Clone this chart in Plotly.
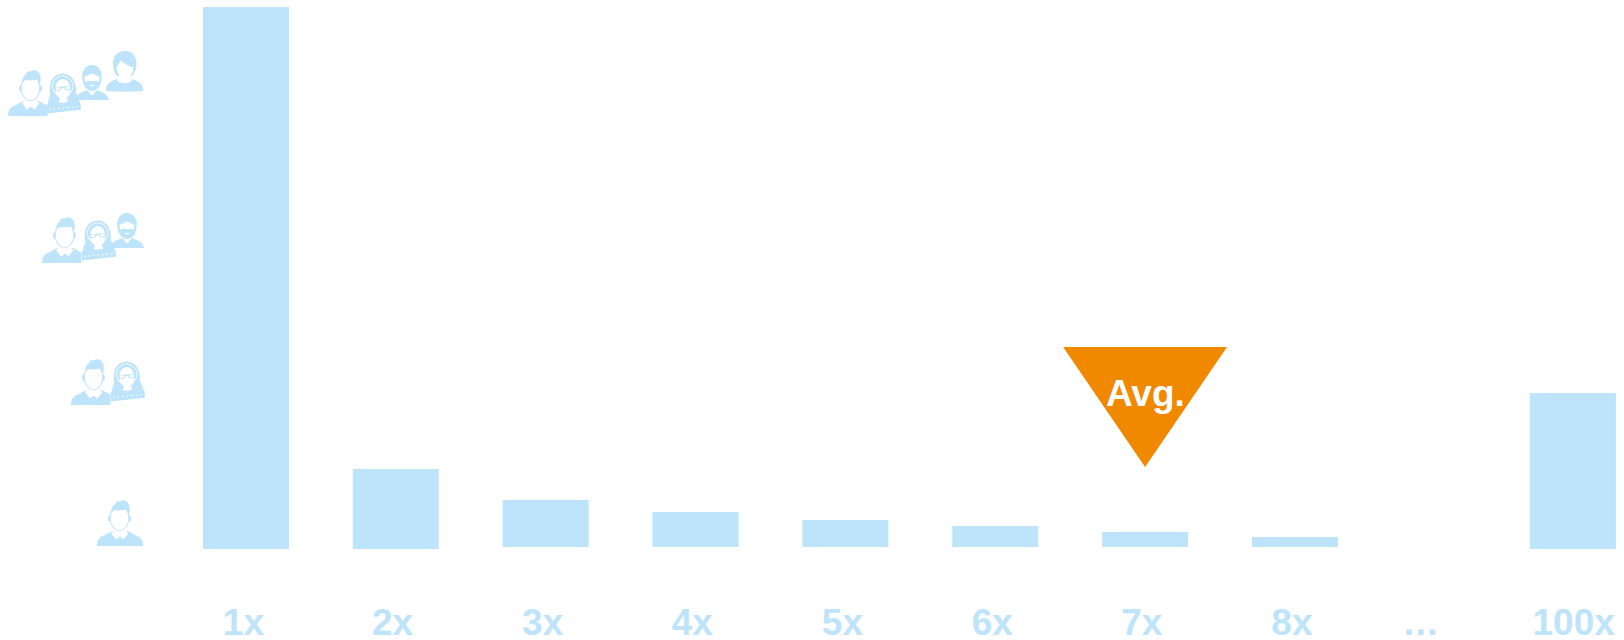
import math
import re
import plotly.graph_objects as go

# ---- data (bar heights, in picture pixels above the baseline)
categories = ["1x", "2x", "3x", "4x", "5x", "6x", "7x", "8x", "100x"]
bar_slots = [1, 2, 3, 4, 5, 6, 7, 8, 9.855]
bar_values = [542, 80, 47, 35, 27, 21, 15, 10, 156]
bar_bases = [0, 0, 2, 2, 2, 2, 2, 2, 0]
tick_labels = ["1x", "2x", "3x", "4x", "5x", "6x", "7x", "8x", "…", "100x"]
tick_slots = [0.983, 1.978, 2.98, 3.978, 4.98, 5.98, 6.978, 7.98, 8.84, 9.86]
avg_slot = 7.0
avg_label = "Avg."

BLUE = "#BDE4FB"
ORANGE = "#F08800"
W, H, MB = 1624, 640, 43
PLOT_H = H - MB
FONT = "Liberation Sans"


def ell(cx, cy, rx, ry):
    k = 0.5523
    return (f"M{cx-rx},{cy} C{cx-rx},{cy-k*ry} {cx-k*rx},{cy-ry} {cx},{cy-ry} "
            f"C{cx+k*rx},{cy-ry} {cx+rx},{cy-k*ry} {cx+rx},{cy} "
            f"C{cx+rx},{cy+k*ry} {cx+k*rx},{cy+ry} {cx},{cy+ry} "
            f"C{cx-k*rx},{cy+ry} {cx-rx},{cy+k*ry} {cx-rx},{cy} Z")


MAN = [
    (BLUE, "M0,46 C0,40 2,37 8,35 L15,31 L31,31 L38,35 C44,37 46,40 46,46 Z"),
    ("white", "M16,31 L29,31 L31.5,33 L26.5,39.5 L23,36.5 L19,39.5 L14,33 Z"),
    (BLUE, ell(22.5, 18, 9.8, 13)),
    (BLUE, ell(12.6, 18.5, 1.6, 3.2)),
    (BLUE, ell(32.4, 18.5, 1.6, 3.2)),
    ("white", ell(22.5, 18, 8.8, 12.2)),
    (BLUE, "M14.5,13 C14,8 16,5 18.5,4 C18,2 20,0.5 23,1.5 C25,-0.5 30,0 31,3 "
           "C33.5,6 33,12 31.5,16 C31,12.5 30,10.5 28.5,9.5 C24,11 19,10 16.5,10.5 Z"),
]

WOMAN_B = [
    (BLUE, ell(17, 13, 12.5, 12.5)),
    (BLUE, "M5,12 C2,17 6,20 3,24 C1,27 3,29 0,31 L34,31 C31,28 33,26 31,23 C28,19 32,17 29,12 Z"),
    (BLUE, "M0,31 C4,29 12,27 17,27 C22,27 30,29 34,31 L34,37.5 L0,39.5 Z"),
    ("white", ell(3, 35.6, 0.8, 0.8)),
    ("white", ell(7.5, 35.4, 0.8, 0.8)),
    ("white", ell(12, 35.2, 0.8, 0.8)),
    ("white", ell(16.5, 35, 0.8, 0.8)),
    ("white", ell(21, 34.8, 0.8, 0.8)),
    ("white", ell(25.5, 34.6, 0.8, 0.8)),
    ("white", ell(30, 34.4, 0.8, 0.8)),
    ("white", ell(17, 13, 10.6, 10.6)),
    (BLUE, ell(17, 13, 9.9, 9.9)),
    ("white", ell(17, 16, 7.6, 10)),
    (BLUE, "M8.5,13.5 L25.5,13.5 L25,15 L24.6,17.6 L20,17.6 L18,15 L16,15 L14,17.6 L9.4,17.6 L9,15 Z"),
    ("white", ell(12, 15.4, 2.4, 1.4)),
    ("white", ell(22, 15.4, 2.4, 1.4)),
    ("white", "M14,25 L20,25 L22,28.5 C20,30 14,30 12,28.5 Z"),
]

MAN_BEARD = [
    (BLUE, "M0,35 C1,29 6,27.5 11,25.5 L23,25.5 C28,27.5 33,29 34,35 Z"),
    ("white", "M12,24 L22,24 L18,30 L16,30 Z"),
    (BLUE, ell(17, 10.5, 9.8, 10.5)),
    (BLUE, "M7.5,13 L26.5,13 C26.5,21 22,26 17,26 C12,26 7.5,21 7.5,13 Z"),
    ("white", "M9.5,11 C12,12 14,9 17,8.5 C20,9 22,12 24.5,11 L24,17 C21,15.4 19,15.6 17,16.5 C15,15.6 13,15.4 10,17 Z"),
    ("white", "M5.8,10 L5.8,19 L6.6,19 L6.6,10 Z"),
    ("white", "M27.4,10 L27.4,19 L28.2,19 L28.2,10 Z"),
    ("white", ell(17, 20.5, 2.6, 0.8)),
]

WOMAN_D = [
    (BLUE, "M0,40 C0,33 3,31 11,28 L26,28 C34,31 37,33 37,40 C25,41 12,41 0,40 Z"),
    ("white", "M11,29 C14,33.5 23,33.5 26,29 L23,24 L14,24 Z"),
    (BLUE, "M7,15 C6,5 12,0 19,0 C26,0 31,5 30.5,14 C30.5,19 28,22 26,25 L11,25 C8.5,22 7,19 7,15 Z"),
    ("white", "M10.5,17 C11.5,14 14,11 15,9.5 C18,12.5 23,15.5 27.5,16.5 C27,23 23,28 19,28.5 C15,28 11,23 10.5,17 Z"),
]


def place(path, ox, oy, scale=1.0, angle=0.0):
    a = math.radians(angle)
    ca, sa = math.cos(a), math.sin(a)

    def sub(m):
        x, y = float(m.group(1)) * scale, float(m.group(2)) * scale
        px = ox + x * ca - y * sa
        py = oy + x * sa + y * ca
        return f"{px / W:.5f},{(PLOT_H - py) / PLOT_H:.5f}"

    return re.sub(r"(-?\d+\.?\d*),(-?\d+\.?\d*)", sub, path)


shapes = []


def add_icon(icon, ox, oy, angle=0.0):
    for color, p in icon:
        shapes.append(dict(type="path", path=place(p, ox, oy, angle=angle),
                           xref="paper", yref="paper", fillcolor=color,
                           line=dict(width=0), layer="above"))


def add_clip(x0, y0, x1, y1):
    shapes.append(dict(type="rect", x0=x0 / W, x1=x1 / W,
                       y0=(PLOT_H - y1) / PLOT_H, y1=(PLOT_H - y0) / PLOT_H,
                       xref="paper", yref="paper", fillcolor="white",
                       line=dict(width=0), layer="above"))


# row 1 (four people)
add_icon(MAN, 8, 70)
add_clip(47.5, 85, 56, 118)
add_icon(WOMAN_B, 45, 74, -3)
add_icon(MAN_BEARD, 75, 65)
add_icon(WOMAN_D, 106, 51)
# row 2 (three people)
add_icon(MAN, 42, 217)
add_clip(81.5, 232, 90, 265)
add_icon(WOMAN_B, 80, 221, -3)
add_icon(MAN_BEARD, 110, 213)
# row 3 (two people)
add_icon(MAN, 71, 359)
add_clip(110.5, 374, 119, 407)
add_icon(WOMAN_B, 109, 362, -3)
# row 4 (one person)
add_icon(MAN, 97, 500)

# average marker, placed in data units
shapes.append(dict(type="path", xref="x", yref="y", layer="above",
                   path=f"M{avg_slot-0.547},202 L{avg_slot+0.547},202 L{avg_slot},82 Z",
                   fillcolor=ORANGE, line=dict(width=0)))

fig = go.Figure(go.Bar(x=bar_slots, y=bar_values, base=bar_bases, width=0.574,
                       marker=dict(color=BLUE, line=dict(width=0)),
                       hoverinfo="skip", customdata=categories))

fig.update_layout(
    width=W, height=H,
    margin=dict(l=0, r=0, t=0, b=MB, pad=0, autoexpand=False),
    paper_bgcolor="white", plot_bgcolor="white",
    showlegend=False, shapes=shapes,
    xaxis=dict(range=[-0.6416, 10.196], tickmode="array", tickvals=tick_slots,
               ticktext=tick_labels, showgrid=False, zeroline=False, showline=False,
               ticks="", ticklabelstandoff=0, automargin=False,
               tickfont=dict(family=FONT, size=37, color=BLUE, weight=700)),
    yaxis=dict(range=[549 - PLOT_H, 549], visible=False, automargin=False),
    annotations=[dict(x=avg_slot, y=156, xref="x", yref="y", text=avg_label,
                      showarrow=False, xanchor="center", yanchor="middle",
                      font=dict(family=FONT, size=37, color="white", weight=700))],
)

fig.write_html("out.html", config=dict(displayModeBar=False),
               post_script="document.body.style.margin='0';document.body.style.overflow='hidden';")
